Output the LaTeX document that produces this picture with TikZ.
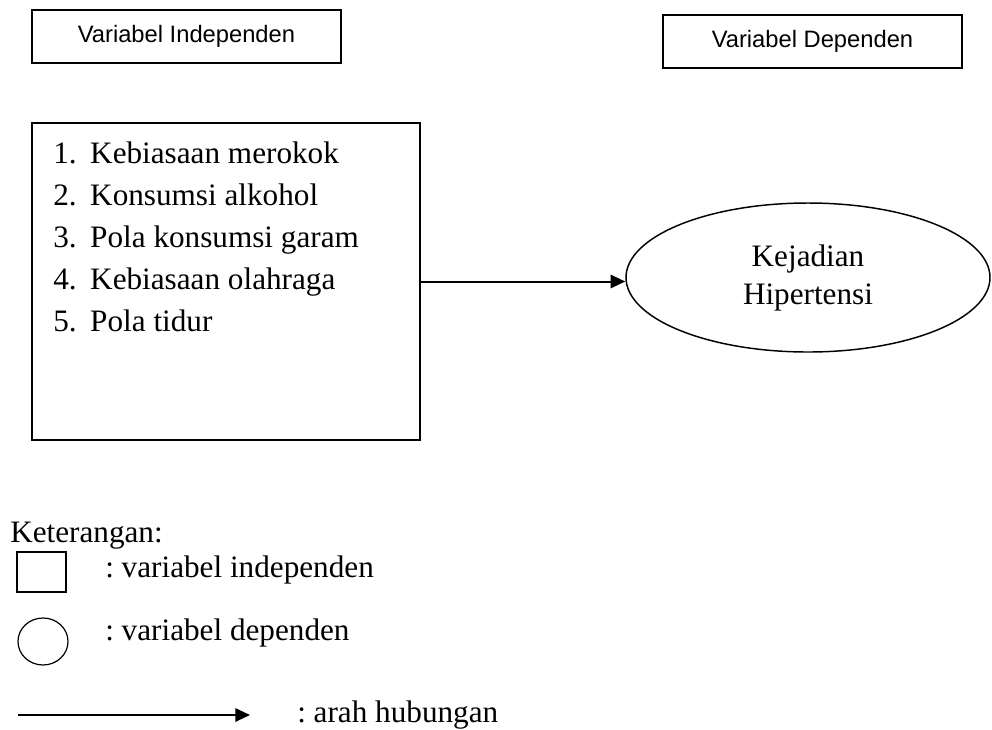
\documentclass[tikz,border=0pt]{standalone}
\usepackage{fontspec}
\setmainfont{Liberation Serif}
\newfontfamily\arialfont{Liberation Sans}
\usetikzlibrary{arrows.meta,shapes.geometric}
\frenchspacing
\tikzset{
  headbox/.style={draw, line width=1.1pt, rectangle, inner sep=0pt,
    font=\arialfont\fontsize{17.8}{21}\selectfont},
  listtext/.style={anchor=base west, inner sep=0pt,
    font=\fontsize{23.4}{28.5}\selectfont},
  mainbox/.style={draw, line width=1.1pt, rectangle, inner sep=0pt},
  depell/.style={draw, line width=1.1pt, ellipse, inner sep=0pt, align=center,
    font=\fontsize{23.4}{28.5}\selectfont},
  relarrow/.style={line width=1.5pt, -{Triangle[length=11pt,width=10pt]}},
}
\begin{document}
\begin{tikzpicture}[x=0.75pt,y=-0.75pt]
\useasboundingbox (0,0) rectangle (992,729);
% header boxes
\node[headbox, minimum width=231.75pt, minimum height=39.75pt] (hind) at (186.5,36.5) {Variabel Independen};
\node[headbox, minimum width=224.25pt, minimum height=39.75pt] (hdep) at (812.5,41.5) {Variabel Dependen};
% independent variables box
\node[mainbox, minimum width=291pt, minimum height=237.75pt] (ind) at (226,281.5) {};
\node[listtext] (l1) at (53,163) {\makebox[27.75pt][l]{1.}Kebiasaan merokok};
\node[listtext] (l2) at (53,205) {\makebox[27.75pt][l]{2.}Konsumsi alkohol};
\node[listtext] (l3) at (53,247) {\makebox[27.75pt][l]{3.}Pola konsumsi garam};
\node[listtext] (l4) at (53,289) {\makebox[27.75pt][l]{4.}Kebiasaan olahraga};
\node[listtext] (l5) at (53,331) {\makebox[27.75pt][l]{5.}Pola tidur};
% dependent variable
\node[depell, minimum width=273pt, minimum height=111.75pt] (dep) at (808,277.5) {Kejadian\\Hipertensi};
\draw[relarrow] (ind.east) -- (dep.west |- ind.east);
% legend
\node[listtext] (ket) at (10,542) {Keterangan:};
\node[mainbox, line width=0.9pt, minimum width=36.75pt, minimum height=30pt] (lsq) at (41.5,572) {};
\node[listtext] (tsq) at (105,577) {: variabel independen};
\node[draw, line width=0.9pt, ellipse, inner sep=0pt, minimum width=37.5pt, minimum height=35.25pt] (lci) at (43,641.5) {};
\node[listtext] (tci) at (105,640) {: variabel dependen};
\coordinate (la1) at (18,715);
\coordinate (la2) at (250,715);
\draw[relarrow] (la1) -- (la2);
\node[listtext] (tar) at (297,722) {: arah hubungan};
\end{tikzpicture}
\end{document}
